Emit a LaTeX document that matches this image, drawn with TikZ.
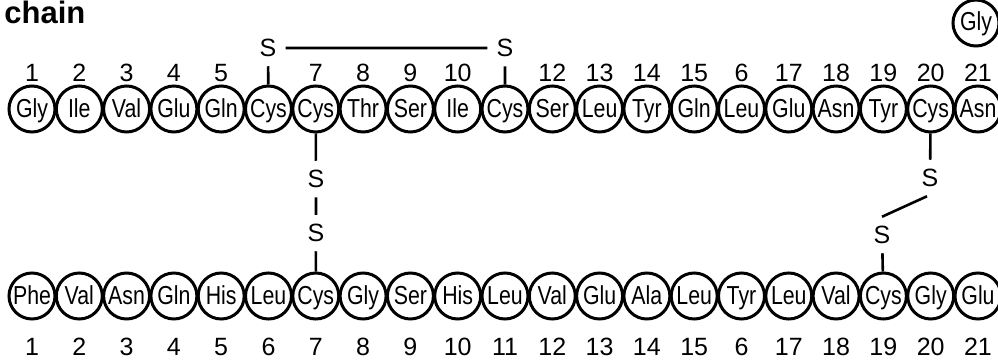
\documentclass[tikz,border=0pt]{standalone}
\usepackage{fontspec}
\setmainfont{Liberation Sans}
\newfontfamily\resfont[FakeStretch=0.82]{Liberation Sans}

\tikzset{
  res/.style={circle, draw, line width=1.5pt, minimum size=23pt, inner sep=0pt,
              text height=9pt, text depth=1pt,
              font=\resfont\fontsize{13}{13}\selectfont},
  num/.style={font=\fontsize{12.5}{12.5}\selectfont, inner sep=0pt},
  sulfur/.style={font=\fontsize{12.5}{12.5}\selectfont, inner sep=4.5pt},
  bond/.style={line width=1.3pt},
}

\begin{document}
\begin{tikzpicture}[x=.5pt, y=-.5pt]
        \useasboundingbox (0,0) rectangle (998,364);
        \node[anchor=base west, inner sep=0pt, font=\bfseries\fontsize{15.5}{15.5}\selectfont]
          (title) at (4,24) {chain};
        % upper chain
        \foreach \r [count = \i] in {Gly,Ile,Val,Glu,Gln,Cys,Cys,Thr,Ser,Ile,Cys,
                                     Ser,Leu,Tyr,Gln,Leu,Glu,Asn,Tyr,Cys,Asn}{
          \node[res] (a\i) at ({32+(\i-1)*47.3},109) {\r};
        }
        \node[res] (a22) at (976,23) {Gly};
        \foreach \i/\n in {1/1,2/2,3/3,4/4,5/5,7/7,8/8,9/9,10/10,12/12,13/13,
                           14/14,15/15,16/6,17/17,18/18,19/19,20/20,21/21}{
          \node[num] (ta\i) at ({32+(\i-1)*47.3},73) {\n};
        }
        % lower chain
        \foreach \r [count = \i] in {Phe,Val,Asn,Gln,His,Leu,Cys,Gly,Ser,His,Leu,
                                     Val,Glu,Ala,Leu,Tyr,Leu,Val,Cys,Gly,Glu}{
          \node[res] (b\i) at ({32+(\i-1)*47.3},296) {\r};
        }
        \foreach \i/\n in {1/1,2/2,3/3,4/4,5/5,6/6,7/7,8/8,9/9,10/10,11/11,12/12,
                           13/13,14/14,15/15,16/6,17/17,18/18,19/19,20/20,21/21}{
          \node[num] (tb\i) at ({32+(\i-1)*47.3},347) {\n};
        }
        % disulfide bridges
        \node[sulfur] (s6)  at (268,48) {S};
        \node[sulfur] (s11) at (505,48) {S};
        \node[sulfur] (s7a) at (316,179) {S};
        \node[sulfur] (s7b) at (316,233) {S};
        \node[sulfur] (s20) at (930,178) {S};
        \node[sulfur] (s19) at (882,235) {S};
        \draw[bond] (a6) -- (s6) -- (s11) -- (a11);
        \draw[bond] (a7) -- (s7a) -- (s7b) -- (b7);
        \draw[bond] (a20) -- (s20);
        \draw[bond] ([xshift=-1.5pt]s20.south) -- (s19.north);
        \draw[bond] (s19) -- (b19);
      \end{tikzpicture}
\end{document}
